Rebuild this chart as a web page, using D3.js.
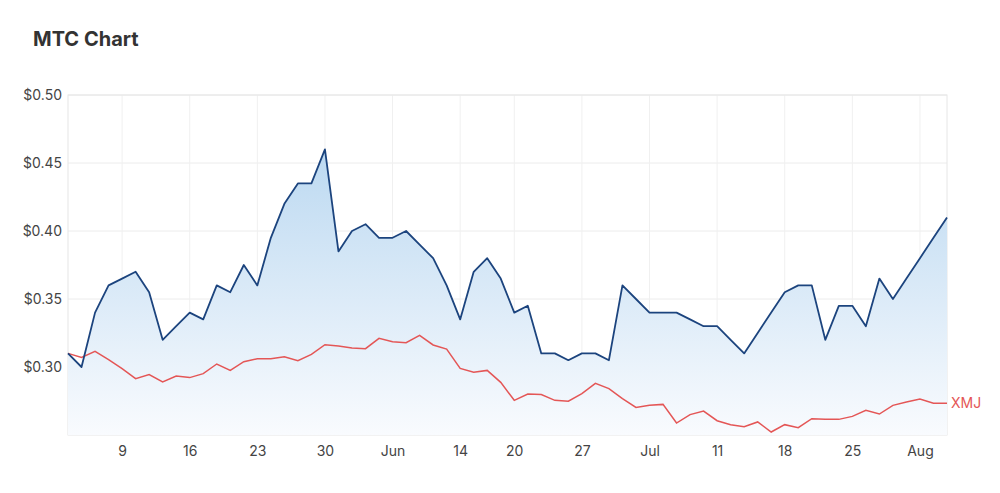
<!DOCTYPE html>
<html>
<head>
<meta charset="utf-8">
<script src="https://cdn.jsdelivr.net/npm/d3@7"></script>
<style>
  body { margin: 0; background: #fff; }
  svg { font-family: Inter, "Noto Sans", sans-serif; }
</style>
</head>
<body>
<svg width="1000" height="493"></svg>
<script>
var width = 1000,
    height = 493,
    margin = {top: 95, right: 53, bottom: 58, left: 68},
    svg = d3.select('svg');

// trading days, index 0 = 3 May
var mtc = [0.31, 0.30, 0.34, 0.36, 0.365, 0.37, 0.355, 0.32, 0.33, 0.34,
           0.335, 0.36, 0.355, 0.375, 0.36, 0.395, 0.42, 0.435, 0.435, 0.46,
           0.385, 0.40, 0.405, 0.395, 0.395, 0.40, 0.39, 0.38, 0.36, 0.335,
           0.37, 0.38, 0.365, 0.34, 0.345, 0.31, 0.31, 0.305, 0.31, 0.31,
           0.305, 0.36, 0.35, 0.34, 0.34, 0.34, 0.335, 0.33, 0.33, 0.32,
           0.31, 0.325, 0.34, 0.355, 0.36, 0.36, 0.32, 0.345, 0.345, 0.33,
           0.365, 0.35, 0.365, 0.38, 0.395, 0.41];

var xmj = [0.31, 0.307, 0.3115, 0.3054, 0.2988, 0.2914, 0.2944, 0.289, 0.2934, 0.2922,
           0.2951, 0.3022, 0.2975, 0.3039, 0.3061, 0.3061, 0.3076, 0.3047, 0.3093, 0.3164,
           0.3154, 0.314, 0.3135, 0.3211, 0.3186, 0.3179, 0.3233, 0.3162, 0.3132, 0.299,
           0.2961, 0.2975, 0.2887, 0.2755, 0.2801, 0.2797, 0.2755, 0.2748, 0.2804, 0.288,
           0.2841, 0.2767, 0.2703, 0.2718, 0.2725, 0.2588, 0.265, 0.2676, 0.2605, 0.2576,
           0.2561, 0.2596, 0.2522, 0.2576, 0.2554, 0.262, 0.2615, 0.2615, 0.2637, 0.2681,
           0.2654, 0.2718, 0.2743, 0.2765, 0.2733, 0.2733];

var tickIndex = [4, 9, 14, 19, 24, 29, 33, 38, 43, 48, 53, 58, 63];
var tickLabels = ["9", "16", "23", "30", "Jun", "14", "20", "27", "Jul", "11", "18", "25", "Aug"];
var yTicks = [0.30, 0.35, 0.40, 0.45, 0.50];

var w = width - margin.left - margin.right,
    h = height - margin.top - margin.bottom;

var xScale = d3.scaleLinear()
    .domain([0, mtc.length - 1])
    .range([0, w]);

var yScale = d3.scaleLinear()
    .domain([0.25, 0.50])
    .range([h, 0]);

var defs = svg.append("defs");
var grad = defs.append("linearGradient")
    .attr("id", "fillGrad")
    .attr("x1", 0).attr("y1", 0).attr("x2", 0).attr("y2", 1);
grad.append("stop").attr("offset", "0%").attr("stop-color", "#bcd9f1");
grad.append("stop").attr("offset", "100%").attr("stop-color", "#f9fbfe");

svg.append("text")
    .attr("x", 33)
    .attr("y", 46)
    .attr("font-size", 20)
    .attr("font-weight", "bold")
    .attr("fill", "#333")
    .text("MTC Chart");

var g = svg.append("g")
    .attr("transform", "translate(" + margin.left + "," + margin.top + ")");

// grid
g.selectAll(".hgrid")
    .data(yTicks)
    .enter()
    .append("line")
    .attr("x1", 0).attr("x2", w)
    .attr("y1", function(d) { return yScale(d); })
    .attr("y2", function(d) { return yScale(d); })
    .attr("stroke", "#ececec");

g.selectAll(".vgrid")
    .data(tickIndex)
    .enter()
    .append("line")
    .attr("y1", 0).attr("y2", h)
    .attr("x1", function(d) { return xScale(d); })
    .attr("x2", function(d) { return xScale(d); })
    .attr("stroke", "#f0f0f0");

g.append("rect")
    .attr("width", w).attr("height", h)
    .attr("fill", "none")
    .attr("stroke", "#e6e6e6");

var area = d3.area()
    .x(function(d, i) { return xScale(i); })
    .y0(h)
    .y1(function(d) { return yScale(d); });

var line = d3.line()
    .x(function(d, i) { return xScale(i); })
    .y(function(d) { return yScale(d); });

g.append("path")
    .datum(mtc)
    .attr("d", area)
    .attr("fill", "url(#fillGrad)");

g.append("path")
    .datum(xmj)
    .attr("d", line)
    .attr("fill", "none")
    .attr("stroke", "#e45656")
    .attr("stroke-width", 1.5);

g.append("path")
    .datum(mtc)
    .attr("d", line)
    .attr("fill", "none")
    .attr("stroke", "#1c447e")
    .attr("stroke-width", 1.8)
    .attr("stroke-linejoin", "round");

g.append("text")
    .attr("x", w + 4)
    .attr("y", yScale(xmj[xmj.length - 1]) + 5)
    .attr("font-size", 14)
    .attr("fill", "#e45656")
    .text("XMJ");

// axes
var yAxis = d3.axisLeft(yScale)
    .tickValues(yTicks)
    .tickSize(0)
    .tickPadding(6)
    .tickFormat(function(d) { return "$" + d.toFixed(2); });

var xAxis = d3.axisBottom(xScale)
    .tickValues(tickIndex)
    .tickSize(0)
    .tickPadding(11)
    .tickFormat(function(d, i) { return tickLabels[i]; });

var gy = g.append("g").call(yAxis);
var gx = g.append("g").attr("transform", "translate(0," + h + ")").call(xAxis);

[gy, gx].forEach(function(ax) {
    ax.select(".domain").remove();
    ax.selectAll("text")
        .attr("font-size", 14)
        .attr("font-family", "Inter, 'Noto Sans', sans-serif")
        .attr("fill", "#444");
});
</script>
</body>
</html>
